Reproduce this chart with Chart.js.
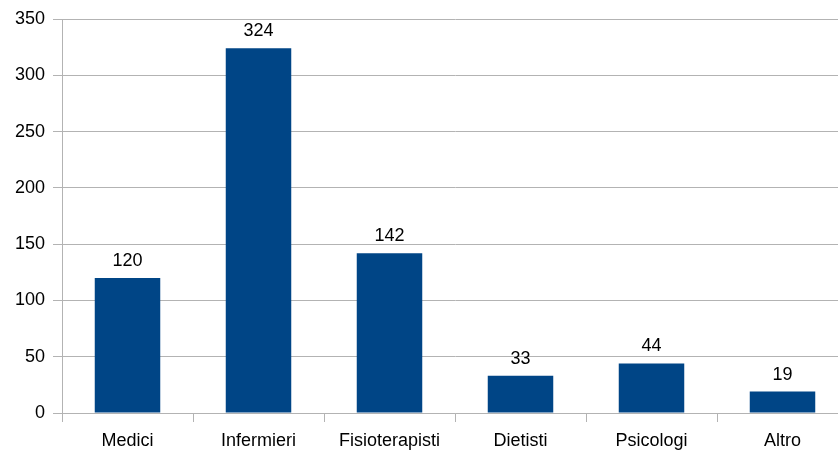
<!DOCTYPE html>
<html>
<head>
<meta charset="utf-8">
<script src="https://cdn.jsdelivr.net/npm/chart.js@4"></script>
<style>
  html, body { margin: 0; padding: 0; background: #fff; overflow: hidden; }
  #wrap { width: 838px; height: 454px; overflow: hidden; }
</style>
</head>
<body>
<div id="wrap"><canvas id="chart" width="848" height="454"></canvas></div>
<script>
const categories = ["Medici", "Infermieri", "Fisioterapisti", "Dietisti", "Psicologi", "Altro"];
const values = [120, 324, 142, 33, 44, 19];
const yTicks = [0, 50, 100, 150, 200, 250, 300, 350];

const gridColor = "#b3b3b3";
const fontFamily = "'Liberation Sans', Arial, sans-serif";

// scrive il valore sopra ogni barra
const valueLabels = {
  id: "valueLabels",
  afterDatasetsDraw(chart) {
    const ctx = chart.ctx;
    const meta = chart.getDatasetMeta(0);
    ctx.save();
    ctx.font = "18px " + fontFamily;
    ctx.fillStyle = "#000";
    ctx.textAlign = "center";
    ctx.textBaseline = "alphabetic";
    meta.data.forEach((bar, i) => {
      ctx.fillText(values[i], bar.x, bar.y - 12);
    });
    ctx.restore();
  }
};

new Chart(document.getElementById("chart").getContext("2d"), {
  type: "bar",
  data: {
    labels: categories,
    datasets: [{
      data: values,
      backgroundColor: "#004586",
      borderWidth: 0,
      barPercentage: 1,
      categoryPercentage: 0.5
    }]
  },
  options: {
    responsive: false,
    animation: false,
    layout: { padding: { top: 19, right: 0, left: 0, bottom: 0 } },
    plugins: { legend: { display: false }, tooltip: { enabled: false } },
    scales: {
      x: {
        offset: true,
        grid: {
          display: true,
          drawOnChartArea: false,
          offset: true,
          color: gridColor,
          tickLength: 9
        },
        border: { display: true, color: gridColor },
        ticks: { color: "#000", font: { size: 18, family: fontFamily }, padding: 8, maxRotation: 0 },
        afterFit(scale) { scale.height = 41; }
      },
      y: {
        min: 0,
        max: 350,
        afterBuildTicks(scale) { scale.ticks = yTicks.map(v => ({ value: v })); },
        grid: { color: gridColor, tickLength: 9 },
        border: { display: true, color: gridColor },
        ticks: { color: "#000", font: { size: 18, family: fontFamily }, padding: 8 },
        afterFit(scale) { scale.width = 62; }
      }
    }
  },
  plugins: [valueLabels]
});
</script>
</body>
</html>
